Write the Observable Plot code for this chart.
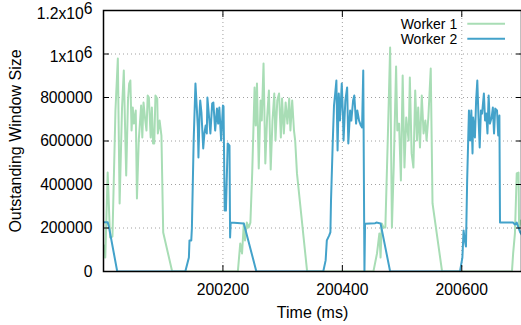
<!DOCTYPE html>
<html><head><meta charset="utf-8">
<script src="https://cdn.jsdelivr.net/npm/d3@7"></script>
<script src="https://cdn.jsdelivr.net/npm/@observablehq/plot@0.6"></script>
<style>
html,body{margin:0;padding:0;background:#fff;}
#chart svg{display:block}
</style></head><body><div id="chart"></div>
<script>
// Worker 1 (green)
const w1Time = [200002,200003,200007,200011,200015,200020,200024,200027,200031,200034,200036,200038,200041,200043,200045,200047,200049,200051,200054,200056,200059,200063,200065,200067,200070,200072,200074,200076,200079,200081,200083,200085,200087,200090,200091,200094,200095,200097,200100,200115,
200225,200229,200232,200235,200237,200240,200243,200246,200249,200253,200255,200257,200260,200263,200265,200268,200271,200274,200277,200280,200283,200286,200288,200291,200294,200297,200299,200302,200305,200308,200311,200313,200316,200319,200321,200324,200341,
200452,200458,200462,200464,200466,200469,200472,200476,200480,200483,200486,200490,200492,200495,200498,200501,200504,200507,200511,200513,200516,200519,200522,200525,200527,200530,200533,200536,200539,200541,200544,200548,200551,200567,
200684,200686,200689,200692,200695,200696,200699,200702];
const w1Size = [120000,64000,455000,156000,161000,740000,979000,313000,749000,924000,680000,441000,786000,864000,878000,648000,754000,680000,740000,336000,602000,763000,616000,777000,694000,648000,809000,800000,616000,754000,589000,589000,809000,795000,635000,694000,671000,625000,179000,0,
0,129000,83000,221000,143000,225000,202000,225000,451000,846000,671000,864000,474000,786000,694000,956000,497000,708000,832000,469000,694000,818000,602000,786000,818000,616000,795000,635000,777000,680000,795000,648000,786000,648000,602000,451000,0,
0,83000,175000,64000,221000,202000,202000,602000,1030000,202000,478000,943000,648000,680000,418000,901000,478000,708000,602000,892000,543000,478000,832000,602000,754000,570000,809000,635000,694000,602000,708000,933000,313000,0,
0,83000,175000,451000,455000,202000,234000,225000];

// Worker 2 (blue)
const w2Time = [199998,200002,200007,200009,200023,
200137,200143,200144,200147,200148,200151,200154,200156,200158,200159,200161,200162,200164,200167,200169,200171,200173,200174,200177,200179,200182,200184,200187,200190,200192,200194,200197,200200,200201,200203,200204,200205,200208,200211,200212,200213,200235,200256,
200368,200372,200374,200378,200380,200381,200384,200386,200388,200390,200392,200394,200396,200399,200401,200402,200405,200408,200410,200413,200415,200418,200420,200423,200425,200428,200431,200433,200435,200437,200438,200455,200457,200464,200480,
200597,200601,200603,200605,200607,200609,200612,200614,200616,200618,200619,200622,200624,200626,200628,200630,200632,200634,200637,200639,200641,200643,200645,200647,200650,200652,200654,200656,200659,200661,200663,200664,200686,200689,200692,200695,200698,200701];
const w2Size = [225000,227000,227000,207000,0,
0,64000,143000,143000,198000,602000,864000,763000,662000,524000,740000,786000,731000,566000,635000,671000,635000,800000,703000,635000,772000,777000,648000,749000,680000,754000,602000,763000,759000,280000,372000,280000,589000,579000,156000,225000,221000,0,
0,51000,143000,166000,181000,326000,602000,763000,818000,878000,556000,818000,694000,864000,717000,602000,786000,846000,589000,740000,694000,786000,809000,680000,740000,694000,671000,662000,924000,0,219000,222000,225000,221000,0,
0,64000,189000,143000,115000,418000,740000,602000,740000,543000,708000,616000,786000,878000,708000,570000,740000,726000,818000,694000,726000,635000,809000,680000,708000,754000,635000,749000,740000,625000,717000,225000,225000,216000,225000,202000,179000,166000];

const seriesNames = ["Worker 1", "Worker 2"];
const seriesColors = ["#a8ddb5", "#43a2ca"];
const xTicks = [200200, 200400, 200600];
const yTicks = [0, 200000, 400000, 600000, 800000, 1000000, 1200000];
const xTitle = "Time (ms)";
const yTitle = "Outstanding Window Size";

const w1 = w1Time.map((t, i) => ({t, v: w1Size[i]}));
const w2 = w2Time.map((t, i) => ({t, v: w2Size[i]}));
const yGrid = yTicks.filter(d => d > 0 && d < 1200000);
const yFmt = d => d >= 1e6 ? `${d / 1e6}x10^6` : String(d);

const chart = Plot.plot({
  width: 521,
  height: 325,
  marginLeft: 103,
  marginRight: 0,
  marginTop: 10,
  marginBottom: 54,
  style: {fontFamily: "'Liberation Sans', Arial, sans-serif", fontSize: "15.7px", color: "#000", background: "#fff", overflow: "visible"},
  x: {domain: [200000, 200700], label: null},
  y: {domain: [0, 1200000], label: null},
  marks: [
    Plot.gridY(yGrid, {stroke: "#a0a0a0", strokeOpacity: 1, strokeDasharray: "1,3"}),
    Plot.gridX(xTicks, {stroke: "#a0a0a0", strokeOpacity: 1, strokeDasharray: "1,3"}),
    Plot.line(w1, {x: "t", y: "v", stroke: seriesColors[0], strokeWidth: 2, clip: true}),
    Plot.line(w2, {x: "t", y: "v", stroke: seriesColors[1], strokeWidth: 2, clip: true}),
    Plot.frame({stroke: "#000", strokeWidth: 1.5}),
    Plot.axisY(yTicks, {anchor: "left", tickSize: -6, tickPadding: 17, tickFormat: yFmt, label: null, fontSize: 15.7}),
    Plot.axisY(yTicks, {anchor: "right", tickSize: -6, tickFormat: () => "", label: null}),
    Plot.axisX(xTicks, {anchor: "bottom", tickSize: -6, tickPadding: 18, tickFormat: d => String(d), label: null, fontSize: 15.7}),
    Plot.axisX(xTicks, {anchor: "top", tickSize: -6, tickFormat: () => "", label: null}),
    Plot.text([xTitle], {frameAnchor: "bottom", lineAnchor: "middle", dy: 41.5, fontSize: 16}),
    Plot.text([yTitle], {frameAnchor: "left", lineAnchor: "middle", dx: -87.7, rotate: -90, textAnchor: "middle", fontSize: 16}),
    ...seriesNames.map((s, i) => Plot.text([s], {frameAnchor: "top-right", lineAnchor: "middle", dx: -64.3, dy: 14 + 15 * i, textAnchor: "end", fontSize: 14})),
    ...seriesNames.map((s, i) => Plot.ruleY([1200000], {dy: 13.3 + 15 * i, insetLeft: 364.3, insetRight: 16, stroke: seriesColors[i], strokeWidth: 2}))
  ]
});

// superscript exponent in tick labels (label block centred as a whole, like the original)
chart.querySelectorAll("text").forEach(t => {
  const s = t.textContent;
  if (s.includes("^")) {
    const [base, exp] = s.split("^");
    t.textContent = "";
    const b = document.createElementNS("http://www.w3.org/2000/svg", "tspan");
    b.setAttribute("dy", "3");
    b.textContent = base;
    const sp = document.createElementNS("http://www.w3.org/2000/svg", "tspan");
    sp.setAttribute("dy", "-4.5");
    sp.textContent = exp;
    t.appendChild(b);
    t.appendChild(sp);
  }
});
document.getElementById("chart").appendChild(chart);
</script></body></html>
